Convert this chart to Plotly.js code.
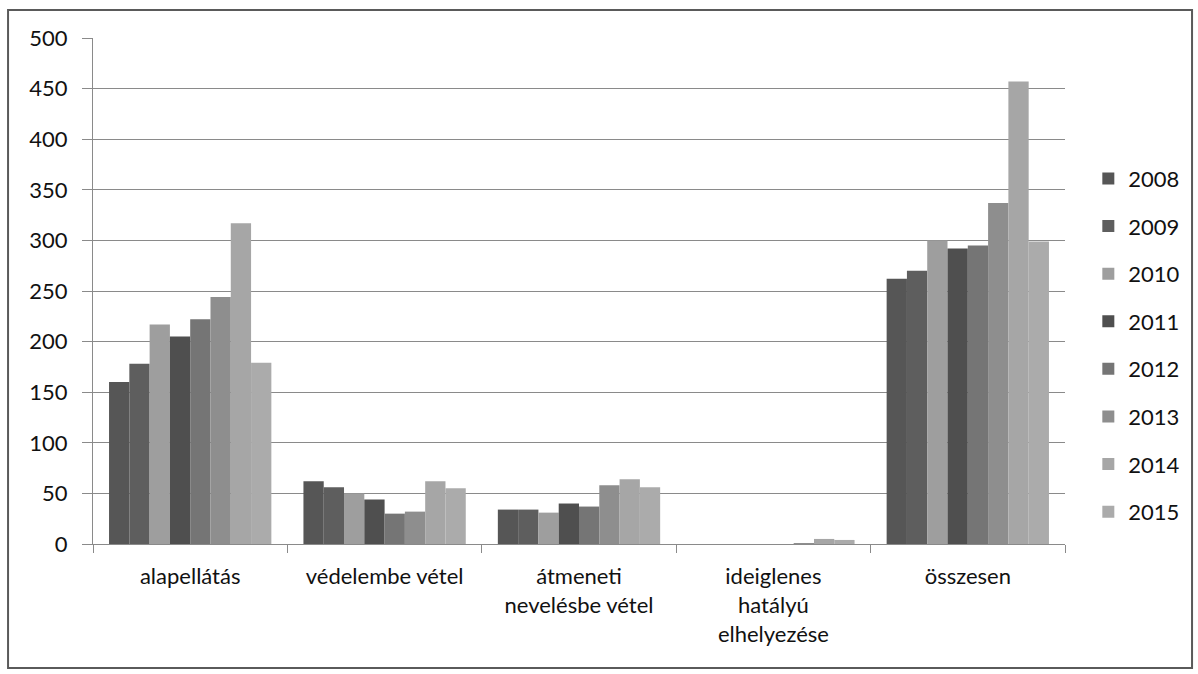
<!DOCTYPE html>
<html>
<head>
<meta charset="utf-8">
<script src="https://cdn.plot.ly/plotly-3.0.1.min.js"></script>
<style>html,body{margin:0;padding:0;background:#fff;}#chart{width:1198px;height:674px;}</style>
</head>
<body>
<div id="chart"></div>
<script>
const categories = ["alapellátás", "védelembe vétel", "átmeneti<br>nevelésbe vétel", "ideiglenes<br>hatályú<br>elhelyezése", "összesen"];
const years = ["2008", "2009", "2010", "2011", "2012", "2013", "2014", "2015"];
const v2008 = [160, 62, 34, 0, 262];
const v2009 = [178, 56, 34, 0, 270];
const v2010 = [217, 50, 31, 0, 300];
const v2011 = [205, 44, 40, 0, 292];
const v2012 = [222, 30, 37, 0, 295];
const v2013 = [244, 32, 58, 1, 337];
const v2014 = [317, 62, 64, 5, 457];
const v2015 = [179, 55, 56, 4, 299];
const seriesValues = [v2008, v2009, v2010, v2011, v2012, v2013, v2014, v2015];
const colors = ["#565656", "#5e5e5e", "#9e9e9e", "#4f4f4f", "#757575", "#8e8e8e", "#a6a6a6", "#ababab"];
const yTicks = [0, 50, 100, 150, 200, 250, 300, 350, 400, 450, 500];

const FONT = "Lato, 'Open Sans', sans-serif";
const traces = years.map((yr, i) => ({
  type: "bar",
  name: yr,
  x: categories,
  y: seriesValues[i],
  legendgroup: yr,
  marker: {color: colors[i], line: {width: 0}}
}));

const layout = {
  width: 1198, height: 674,
  margin: {l: 93, r: 133, t: 38, b: 130},
  paper_bgcolor: "#ffffff",
  plot_bgcolor: "#ffffff",
  barmode: "group",
  bargap: 0.165,
  bargroupgap: 0,
  font: {family: FONT, size: 22, color: "#111111"},
  showlegend: true,
  legend: {x: 1.024, xanchor: "left", y: 0.393, yanchor: "middle", tracegroupgap: 16,
           itemwidth: 30,
           font: {family: FONT, size: 22, color: "#111111"}, bgcolor: "rgba(0,0,0,0)"},
  xaxis: {type: "category", showline: true, linecolor: "#8a8a8a", linewidth: 1,
          ticks: "outside", tickson: "boundaries", ticklen: 8, tickcolor: "#8a8a8a",
          ticklabelstandoff: 13,
          tickfont: {family: FONT, size: 22, color: "#111111"}, showgrid: false, fixedrange: true},
  yaxis: {range: [0, 500], tickvals: yTicks, ticktext: yTicks.map(String),
          showline: true, linecolor: "#8a8a8a", linewidth: 1,
          ticks: "outside", ticklen: 10, tickcolor: "#8a8a8a", ticklabelstandoff: 10,
          showgrid: true, gridcolor: "#8a8a8a", gridwidth: 1, zeroline: false,
          tickfont: {family: FONT, size: 22, color: "#111111"}},
  shapes: [{type: "rect", xref: "paper", yref: "paper",
            x0: -0.0874, x1: 1.1307, y0: -0.245, y1: 1.0553,
            line: {color: "#5a5a5a", width: 2}, fillcolor: "rgba(0,0,0,0)"}]
};

Plotly.newPlot("chart", traces, layout, {displayModeBar: false, staticPlot: true});
</script>
</body>
</html>
